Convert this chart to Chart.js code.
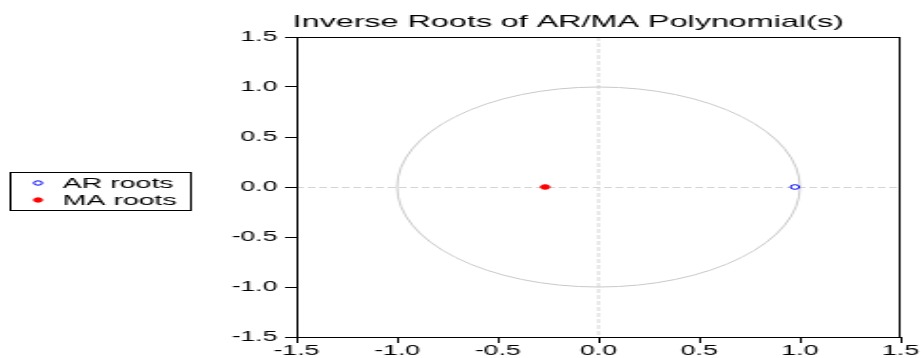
<!DOCTYPE html>
<html>
<head>
<meta charset="utf-8">
<script src="https://cdn.jsdelivr.net/npm/chart.js@4.4.1/dist/chart.umd.min.js"></script>
<style>
  html, body { margin: 0; padding: 0; background: #ffffff; overflow: hidden; }
  #wrap { width: 921px; height: 358px; overflow: hidden; }
  /* the original picture is stretched horizontally, so draw narrow and stretch */
  #rootChart { transform: scaleX(1.9); transform-origin: 0 0; display: block; }
</style>
</head>
<body>
<div id="wrap">
  <canvas id="rootChart" width="485" height="358"></canvas>
</div>
<script>
// Data
var seriesNames = ["AR roots", "MA roots"];
var arReal = [0.975];
var arImag = [0.0];
var maReal = [-0.265];
var maImag = [0.0];
var axisTicks = [-1.5, -1.0, -0.5, 0.0, 0.5, 1.0, 1.5];
var chartTitle = "Inverse Roots of AR/MA Polynomial(s)";

var FONT = "'Liberation Sans', Arial, sans-serif";

function toPoints(re, im) {
  return re.map(function (v, i) { return { x: v, y: im[i] }; });
}

// unit circle, zero lines, frame, title and legend
var rootsDecor = {
  id: "rootsDecor",
  beforeDatasetsDraw: function (chart) {
    var c = chart.ctx, a = chart.chartArea;
    var xs = chart.scales.x, ys = chart.scales.y;
    var x0 = xs.getPixelForValue(0), y0 = ys.getPixelForValue(0);
    c.save();
    c.strokeStyle = "#d4d4d4";
    c.lineWidth = 1;
    c.setLineDash([4, 2]);
    c.beginPath();
    c.moveTo(a.left, y0 + 0.5);
    c.lineTo(a.right, y0 + 0.5);
    c.moveTo(x0, a.top);
    c.lineTo(x0, a.bottom);
    c.stroke();
    c.setLineDash([]);
    c.strokeStyle = "#c8c8c8";
    var rx = xs.getPixelForValue(1) - x0;
    var ry = y0 - ys.getPixelForValue(1);
    c.beginPath();
    c.ellipse(x0, y0, rx, ry, 0, 0, Math.PI * 2);
    c.stroke();
    c.restore();
  },
  afterDraw: function (chart) {
    var c = chart.ctx, a = chart.chartArea;
    c.save();
    c.strokeStyle = "#000000";
    c.lineWidth = 1;
    var l = Math.round(a.left) + 0.5, t = Math.round(a.top) + 0.5;
    var r = Math.round(a.right) - 0.5, b = Math.round(a.bottom) + 0.5;
    c.strokeRect(l, t, r - l, b - t);

    c.fillStyle = "#000000";
    c.font = "17px " + FONT;
    c.textAlign = "left";
    c.textBaseline = "alphabetic";
    c.fillText(chartTitle, 154, 27);

    // legend box
    c.strokeRect(5.5, 172.5, 95, 38);
    var rows = [183, 200];
    c.font = "15px " + FONT;
    c.textBaseline = "middle";
    chart.data.datasets.forEach(function (ds, i) {
      c.beginPath();
      c.ellipse(20, rows[i], 2.2, 2.2, 0, 0, Math.PI * 2);
      c.fillStyle = ds.backgroundColor;
      c.fill();
      c.strokeStyle = ds.borderColor;
      c.stroke();
      c.fillStyle = "#000000";
      c.fillText(ds.label, 33, rows[i] + 1);
    });
    c.restore();
  }
};

var axisCommon = {
  type: "linear",
  min: -1.5,
  max: 1.5,
  afterBuildTicks: function (scale) {
    scale.ticks = axisTicks.map(function (v) { return { value: v }; });
  },
  grid: {
    drawOnChartArea: false,
    drawTicks: true,
    tickLength: 6,
    tickColor: "#000000",
    color: "#000000"
  },
  border: { display: false },
  ticks: {
    color: "#000000",
    font: { size: 14, family: FONT },
    callback: function (v) { return Number(v).toFixed(1); }
  }
};

var ctx = document.getElementById("rootChart");
var rootChart = new Chart(ctx, {
  type: "scatter",
  data: {
    datasets: [
      {
        label: seriesNames[0],
        data: toPoints(arReal, arImag),
        backgroundColor: "#ffffff",
        borderColor: "#0000ff",
        borderWidth: 1,
        pointRadius: 2.3,
        pointHoverRadius: 2.3
      },
      {
        label: seriesNames[1],
        data: toPoints(maReal, maImag),
        backgroundColor: "#ff0000",
        borderColor: "#ff0000",
        borderWidth: 1,
        pointRadius: 2.3,
        pointHoverRadius: 2.3
      }
    ]
  },
  options: {
    responsive: false,
    animation: false,
    devicePixelRatio: 1,
    layout: { padding: { left: 100, right: 11, top: 37, bottom: 0 } },
    plugins: {
      legend: { display: false },
      title: { display: false },
      tooltip: { enabled: false }
    },
    scales: {
      x: Object.assign({}, axisCommon, {
        position: "bottom",
        afterFit: function (s) { s.height = 21; },
        ticks: Object.assign({}, axisCommon.ticks, { padding: 0, maxRotation: 0 })
      }),
      y: Object.assign({}, axisCommon, {
        position: "left",
        afterFit: function (s) { s.width = 56; },
        ticks: Object.assign({}, axisCommon.ticks, { padding: 4 })
      })
    }
  },
  plugins: [rootsDecor]
});
</script>
</body>
</html>
